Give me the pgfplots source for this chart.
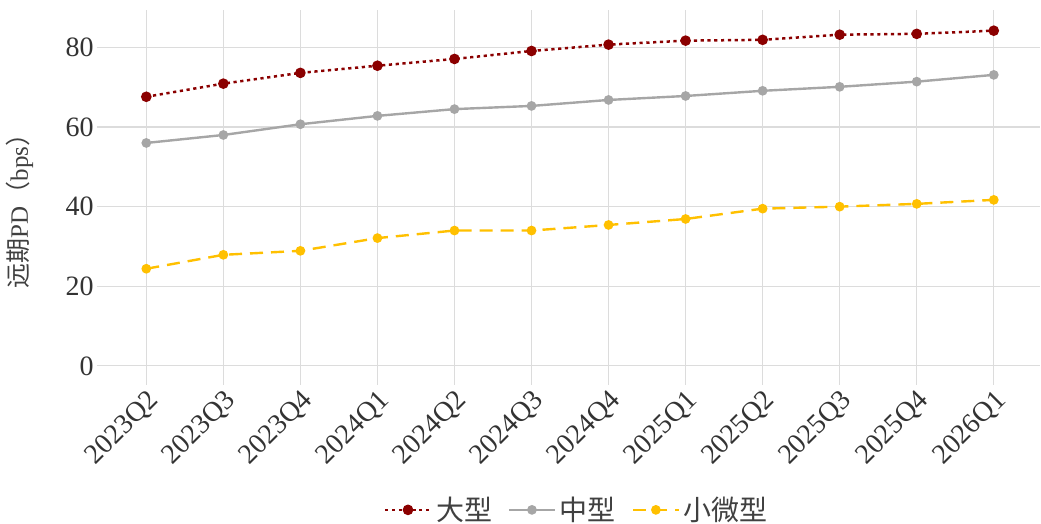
\documentclass[border=0pt]{standalone}
\usepackage{pgfplots}
\pgfplotsset{compat=1.18}
\usepackage{fontspec}
\setmainfont{Liberation Serif}
\newfontfamily\cjk{Noto Sans CJK SC}
\definecolor{cRed}{RGB}{139,0,0}
\definecolor{cGray}{RGB}{166,166,166}
\definecolor{cGold}{RGB}{255,192,0}
\definecolor{cGrid}{RGB}{220,220,220}
\begin{document}
\begin{tikzpicture}
\path[use as bounding box] (-48.5pt,-69.5pt) rectangle (472pt,192.5pt);
\begin{axis}[
  at={(0,0)}, anchor=south west,
  scale only axis, width=471.5pt, height=187.5pt,
  xmin=-0.64, xmax=11.6, ymin=-4.8, ymax=89.4,
  xtick={0,...,11},
  xticklabels={2023Q2,2023Q3,2023Q4,2024Q1,2024Q2,2024Q3,2024Q4,2025Q1,2025Q2,2025Q3,2025Q4,2026Q1},
  ytick={0,20,40,60,80},
  grid=major,
  major grid style={cGrid, line width=0.6pt},
  axis line style={draw=none},
  major tick length=0pt,
  tick style={draw=none},
  /pgf/number format/assume math mode=true,
  tick label style={font=\fontsize{14}{16}\selectfont, text=black!80},
  yticklabel style={inner sep=1.5pt},
  xticklabel style={rotate=45, anchor=north east, inner sep=1pt},
  ylabel={{\cjk 远期}PD{\cjk （}bps{\cjk ）}},
  every axis y label/.style={at={(axis description cs:-0.0817,0.48)}, rotate=90, anchor=center,
    font=\fontsize{12.5}{14}\selectfont, text=black!75},
  legend style={at={(0.51,-0.333)}, anchor=center, draw=none, fill=none,
    font=\fontsize{14}{16}\selectfont\cjk, text=black!75,
    /tikz/every even column/.append style={column sep=6pt}},
  legend columns=-1,
  legend image code/.code={
    \draw[mark repeat=2,mark phase=2] plot coordinates {(0cm,0cm) (0.4cm,0cm) (0.8cm,0cm)};},
]
\addplot[cRed, line width=1.25pt, dash pattern=on 1.6pt off 1.8pt, mark=*, mark size=2pt, mark options={solid}]
coordinates {(0,67.6) (1,70.9) (2,73.6) (3,75.4) (4,77.1) (5,79.1) (6,80.7) (7,81.7) (8,81.9) (9,83.2) (10,83.4) (11,84.2)};
\addlegendentry{大型}
\addplot[cGray, line width=1.2pt, mark=*, mark size=1.8pt]
coordinates {(0,56.0) (1,58.0) (2,60.7) (3,62.8) (4,64.5) (5,65.3) (6,66.8) (7,67.8) (8,69.1) (9,70.1) (10,71.4) (11,73.1)};
\addlegendentry{中型}
\addplot[cGold, line width=1.2pt, dash pattern=on 6.5pt off 4pt, mark=*, mark size=1.8pt, mark options={solid}]
coordinates {(0,24.4) (1,27.9) (2,28.9) (3,32.1) (4,34.0) (5,34.0) (6,35.4) (7,36.9) (8,39.5) (9,40.0) (10,40.7) (11,41.7)};
\addlegendentry{小微型}
\end{axis}
\end{tikzpicture}
\end{document}
